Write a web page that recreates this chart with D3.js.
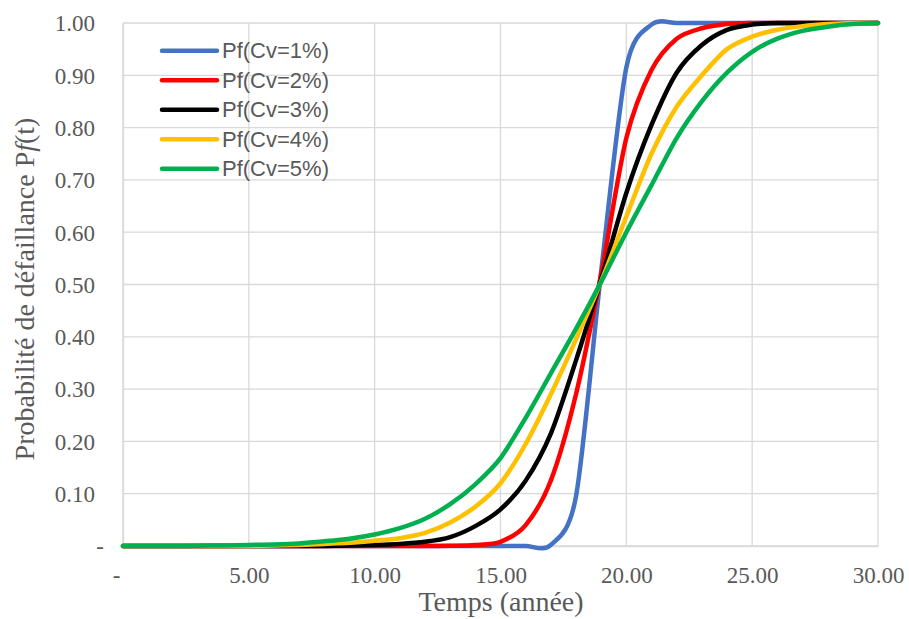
<!DOCTYPE html>
<html>
<head>
<meta charset="utf-8">
<script src="https://cdn.jsdelivr.net/npm/d3@7"></script>
<style>
  body { margin: 0; background: #fff; }
  svg { display: block; }
</style>
</head>
<body>
<svg id="chart" width="909" height="619"></svg>
<script>
// ---- data ----
const years = d3.range(0, 31); // 0..30
const seriesNames = ["Pf(Cv=1%)", "Pf(Cv=2%)", "Pf(Cv=3%)", "Pf(Cv=4%)", "Pf(Cv=5%)"];
const seriesColors = ["#4472C4", "#FF0000", "#000000", "#FFC000", "#00B050"];
const pfCv1 = [0,0,0,0,0,0,0,0,0,0,0,0,0,0,0,0,0,0.002,0.095,0.525,0.915,0.997,1,1,1,1,1,1,1,1,1];
const pfCv2 = [0,0,0,0,0,0,0,0,0,0,0,0,0,0.0005,0.002,0.008,0.04,0.125,0.29,0.52,0.78,0.91,0.97,0.99,0.998,1,1,1,1,1,1];
const pfCv3 = [0,0,0,0,0,0,0,0,0,0.001,0.002,0.004,0.008,0.017,0.038,0.07,0.125,0.215,0.355,0.51,0.675,0.805,0.905,0.958,0.987,0.997,1,1,1,1,1];
const pfCv4 = [0,0,0,0,0,0,0.001,0.002,0.004,0.006,0.01,0.015,0.025,0.045,0.075,0.12,0.195,0.29,0.395,0.506,0.63,0.75,0.84,0.9,0.95,0.974,0.987,0.994,0.998,1,1];
const pfCv5 = [0,0,0,0.0005,0.001,0.002,0.003,0.005,0.009,0.014,0.022,0.034,0.052,0.08,0.118,0.168,0.245,0.33,0.415,0.505,0.6,0.69,0.78,0.85,0.905,0.945,0.97,0.985,0.993,0.998,1];
const seriesValues = [pfCv1, pfCv2, pfCv3, pfCv4, pfCv5];
const xTicks = [0, 5, 10, 15, 20, 25, 30];
const yTicks = [0, 0.1, 0.2, 0.3, 0.4, 0.5, 0.6, 0.7, 0.8, 0.9, 1.0];
const xTitle = "Temps (année)";

// ---- layout ----
const svg = d3.select("#chart");
const mLeft = 123, mRight = 878, mTop = 23, mBottom = 546;
const x = d3.scaleLinear().domain([0, 30]).range([mLeft, mRight]);
const y = d3.scaleLinear().domain([0, 1]).range([mBottom, mTop]);
const gridColor = "#D9D9D9";
const textColor = "#595959";

// gridlines
svg.append("g").selectAll("line").data(yTicks).join("line")
  .attr("x1", mLeft).attr("x2", mRight)
  .attr("y1", d => y(d)).attr("y2", d => y(d))
  .attr("stroke", gridColor).attr("stroke-width", 1.3);
svg.append("g").selectAll("line").data(xTicks).join("line")
  .attr("x1", d => x(d)).attr("x2", d => x(d))
  .attr("y1", mTop).attr("y2", mBottom)
  .attr("stroke", gridColor).attr("stroke-width", 1.3);

// axes (labels)
const yAxis = d3.axisLeft(y).tickValues(yTicks).tickSize(0).tickPadding(28)
  .tickFormat(d => d === 0 ? "-" : d.toFixed(2));
const gy = svg.append("g").attr("transform", `translate(${mLeft},0)`).call(yAxis);
gy.select(".domain").attr("stroke", gridColor).attr("stroke-width", 1.3);
gy.selectAll("text").attr("font-family", "'Liberation Serif', 'Times New Roman', serif")
  .attr("font-size", 23).attr("fill", textColor)
  .attr("dy", "0.34em");
gy.selectAll(".tick").filter(d => d === 0).select("text")
  .attr("text-anchor", "middle").attr("x", -23);

const xAxis = d3.axisBottom(x).tickValues(xTicks).tickSize(0).tickPadding(21)
  .tickFormat(d => d === 0 ? "-" : d.toFixed(2));
const gx = svg.append("g").attr("transform", `translate(0,${mBottom})`).call(xAxis);
gx.select(".domain").attr("stroke", gridColor).attr("stroke-width", 1.3);
gx.selectAll("text").attr("font-family", "'Liberation Serif', 'Times New Roman', serif")
  .attr("font-size", 23).attr("fill", textColor);
gx.selectAll(".tick").filter(d => d === 0).select("text").attr("x", -7);

// lines
const line = d3.line()
  .x((d, i) => x(years[i]))
  .y(d => y(d))
  .curve(d3.curveCardinal.tension(0.15));
svg.append("g").selectAll("path").data(seriesValues).join("path")
  .attr("d", d => line(d))
  .attr("fill", "none")
  .attr("stroke", (d, i) => seriesColors[i])
  .attr("stroke-width", 4.5)
  .attr("stroke-linejoin", "round")
  .attr("stroke-linecap", "round");

// axis titles
svg.append("text")
  .attr("x", 501).attr("y", 611)
  .attr("text-anchor", "middle")
  .attr("font-family", "'Liberation Serif', 'Times New Roman', serif")
  .attr("font-size", 28).attr("fill", textColor)
  .text(xTitle);

const yt = svg.append("text")
  .attr("transform", "translate(34,289) rotate(-90)")
  .attr("text-anchor", "middle")
  .attr("font-family", "'Liberation Serif', 'Times New Roman', serif")
  .attr("font-size", 28).attr("fill", textColor);
yt.append("tspan").text("Probabilité de défaillance P");
yt.append("tspan").attr("font-style", "italic").text("f");
yt.append("tspan").text("(t)");

// legend
const leg = svg.append("g").selectAll("g").data(seriesNames).join("g")
  .attr("transform", (d, i) => `translate(162,${50.7 + i * 29.5})`);
leg.append("line").attr("x1", 0).attr("x2", 55).attr("y1", 0).attr("y2", 0)
  .attr("stroke", (d, i) => seriesColors[i]).attr("stroke-width", 4.5)
  .attr("stroke-linecap", "round");
leg.append("text").attr("x", 60).attr("y", 0).attr("dy", "0.35em")
  .attr("font-family", "'Liberation Sans', Arial, sans-serif")
  .attr("font-size", 22).attr("fill", textColor)
  .text(d => d);
</script>
</body>
</html>
